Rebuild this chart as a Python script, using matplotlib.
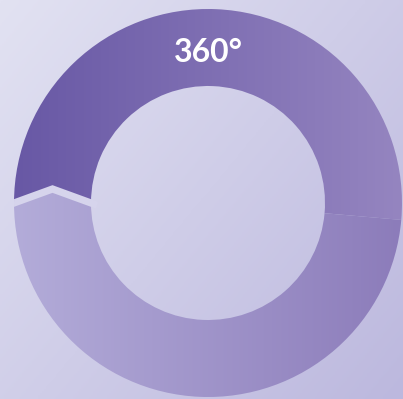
import numpy as np
import matplotlib.pyplot as plt
from matplotlib.patches import Polygon, Circle
from matplotlib.colors import LinearSegmentedColormap

W, H = 403, 399

# ring data (degrees of the circle)
segment_values = [185, 175]
segment_left_colors = ['#6858a5', '#b3acd9']
segment_right_colors = ['#9585c0', '#8c7cba']
center_label = '360°'

bg_colors = ['#e2e2f2', '#bcb8de']

cx, cy = 208, H - 203
R, r = 194, 117


def hgrad(c0, c1):
    cmap = LinearSegmentedColormap.from_list('g', [c0, c1])
    return cmap, np.linspace(0, 1, 256).reshape(1, -1)


fig = plt.figure(figsize=(W / 100, H / 100), dpi=100)
ax = fig.add_axes([0, 0, 1, 1])

# background gradient, top-left to bottom-right
yy, xx = np.mgrid[0:1:200j, 0:1:200j]
bg_cmap = LinearSegmentedColormap.from_list('bg', bg_colors)
ax.imshow(0.55 * xx + 0.45 * yy, cmap=bg_cmap, extent=(0, W, 0, H),
          origin='upper', aspect='auto', zorder=0, vmin=0, vmax=1)

wedges, _ = ax.pie(segment_values, center=(cx, cy), radius=R, startangle=180,
                   counterclock=False,
                   wedgeprops=dict(width=R - r, linewidth=0, facecolor='none'))

grads = []
for w, c0, c1 in zip(wedges, segment_left_colors, segment_right_colors):
    cmap, g = hgrad(c0, c1)
    im = ax.imshow(g, cmap=cmap, extent=(cx - R, cx + R, cy - R, cy + R),
                   aspect='auto', zorder=2)
    im.set_clip_path(w)
    grads.append((cmap, g))

# chevron at the start of the ring: lower segment pokes up into the upper one
h = 14
mid = (R + r) / 2
tri = Polygon([(cx - R - 2, cy), (cx - mid, cy + h), (cx - r + 2, cy)],
              closed=True, facecolor='none', edgecolor='none')
ax.add_patch(tri)
cmap, g = grads[1]
im = ax.imshow(g, cmap=cmap, extent=(cx - R, cx + R, cy - R, cy + R),
               aspect='auto', zorder=2)
im.set_clip_path(tri)

ring = Circle((cx, cy), R, facecolor='none', edgecolor='none')
ax.add_patch(ring)
gap, = ax.plot([cx - R - 6, cx - mid, cx - r + 6],
               [cy - 6 * h / (R - mid), cy + h, cy - 6 * h / (R - mid)],
               color='#d6d4ec', linewidth=5.2, solid_joinstyle='miter',
               solid_capstyle='butt', zorder=3)
gap.set_clip_path(ring)

ax.text(cx, H - 52, center_label, color='white', fontsize=23,
        fontweight='bold', family='Lato', ha='center', va='center', zorder=4)

ax.set_xlim(0, W)
ax.set_ylim(0, H)
ax.set_aspect('auto')
ax.axis('off')

fig.savefig('out.png', dpi=100)
